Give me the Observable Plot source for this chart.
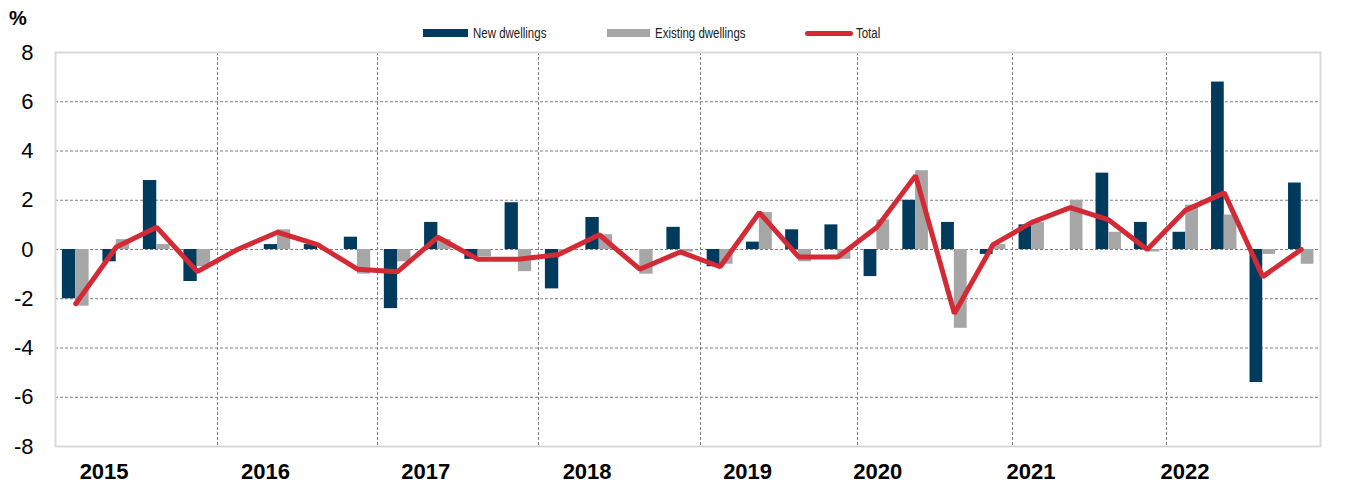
<!DOCTYPE html>
<html>
<head>
<meta charset="utf-8">
<script src="https://cdn.jsdelivr.net/npm/d3@7"></script>
<script src="https://cdn.jsdelivr.net/npm/@observablehq/plot@0.6"></script>
<style>
  html, body { margin: 0; padding: 0; background: #fff; }
  #wrap { position: relative; width: 1347px; height: 484px; }
  #header { position: absolute; left: 0; top: 0; height: 44px; width: 1347px; z-index: 2; font-family: "Liberation Sans", Arial, sans-serif; }
  .pct { position: absolute; left: 9px; top: 7px; font-weight: bold; font-size: 20px; color: #000; }
  .sw { position: absolute; }
  .lt { position: absolute; font-size: 14px; color: #222; line-height: 16px; top: 25px; transform: scaleX(0.82); transform-origin: left center; white-space: nowrap; }
  svg { display: block; }
</style>
</head>
<body>
<div id="wrap">
  <div id="header"></div>
  <div id="chart"></div>
</div>
<script>
const years = [2015, 2016, 2017, 2018, 2019, 2020, 2021, 2022];
const quarterIndex = [0, 1, 2, 3];

const newDwellings = [
  -2.0, -0.5, 2.8, -1.3,
   0.0,  0.2, 0.2,  0.5,
  -2.4,  1.1, -0.4, 1.9,
  -1.6,  1.3, 0.0,  0.9,
  -0.7,  0.3, 0.8,  1.0,
  -1.1,  2.0, 1.1, -0.2,
   1.0,  0.0, 3.1,  1.1,
   0.7,  6.8, -5.4, 2.7
];
const existingDwellings = [
  -2.3,  0.4,  0.2, -0.7,
   0.0,  0.8,  0.0, -1.0,
  -0.5,  0.4, -0.3, -0.9,
  -0.1,  0.6, -1.0, -0.1,
  -0.6,  1.5, -0.5, -0.4,
   1.2,  3.2, -3.2,  0.2,
   1.1,  2.0,  0.7, -0.1,
   1.8,  1.4, -0.2, -0.6
];
const total = [
  -2.2,  0.1,  0.9, -0.9,
   0.0,  0.7,  0.2, -0.8,
  -0.9,  0.5, -0.4, -0.4,
  -0.2,  0.6, -0.8, -0.1,
  -0.7,  1.5, -0.3, -0.3,
   0.9,  3.0, -2.6,  0.2,
   1.1,  1.7,  1.2,  0.0,
   1.6,  2.3, -1.1,  0.0
];
const yTicks = [-8, -6, -4, -2, 0, 2, 4, 6, 8];
// Year labels as placed on the original axis (fraction of year)
const yearLabelTicks = [2015.3, 2016.3, 2017.3, 2018.3, 2019.3, 2020.13, 2021.12, 2022.12];

const seriesNames = ["New dwellings", "Existing dwellings", "Total"];
const colors = { new: "#003a5c", existing: "#a6a6a6", total: "#d42a36" };

// quarter table: t = start of quarter in fractional years
const data = years.flatMap((y, yi) => quarterIndex.map(qi => {
  const i = yi * 4 + qi;
  return { t: y + qi / 4, nw: newDwellings[i], ex: existingDwellings[i], tot: total[i] };
}));

const W = 1347, H = 484, mL = 55, mR = 27, mT = 52, mB = 38;
// the original category axis is slightly uneven: year boundaries in pixels
const xDomain = [2015, 2016, 2017, 2018, 2019, 2020, 2021, 2022, 2023];
const xRange = [55, 217, 377, 538, 700, 857, 1012, 1166, 1320];

const q = 0.25; // one quarter in years
const gridStyle = { stroke: "#7f7f7f", strokeOpacity: 1, strokeWidth: 1, strokeDasharray: "3,2" };

const chart = Plot.plot({
  width: W, height: H,
  marginLeft: mL, marginRight: mR, marginTop: mT, marginBottom: mB,
  style: { fontFamily: "'Liberation Sans', Arial, sans-serif", color: "#000", background: "#fff" },
  x: { type: "linear", domain: xDomain, range: xRange },
  y: { domain: [-8, 8] },
  marks: [
    Plot.gridY(yTicks, gridStyle),
    Plot.ruleX(years.slice(1), gridStyle),
    Plot.frame({ stroke: "#d9d9d9", strokeWidth: 2 }),
    Plot.rectY(data, { x1: d => d.t + q * 0.17, x2: d => d.t + q * 0.5, y: "nw", fill: colors.new }),
    Plot.rectY(data, { x1: d => d.t + q * 0.5, x2: d => d.t + q * 0.83, y: "ex", fill: colors.existing }),
    Plot.lineY(data, { x: d => d.t + q * 0.5, y: "tot", stroke: colors.total, strokeWidth: 5, strokeLinejoin: "miter" }),
    Plot.axisY({ ticks: yTicks, tickFormat: d => String(d), tickSize: 0, tickPadding: 22, fontSize: 22, label: null }),
    Plot.axisX({ ticks: yearLabelTicks, tickFormat: d => String(Math.floor(d)), tickSize: 0, tickPadding: 17, fontSize: 22, fontWeight: "bold", label: null })
  ]
});
document.getElementById("chart").appendChild(chart);

// Legend (HTML overlay in the top margin)
const header = document.getElementById("header");
const pct = document.createElement("div");
pct.className = "pct"; pct.textContent = "%";
header.appendChild(pct);
const legendItems = [
  { name: seriesNames[0], color: colors.new, left: 423, w: 45, h: 8, r: 0, tx: 473 },
  { name: seriesNames[1], color: colors.existing, left: 607, w: 43, h: 8, r: 0, tx: 655 },
  { name: seriesNames[2], color: colors.total, left: 805, w: 48, h: 5, r: 3, tx: 856 }
];
legendItems.forEach(it => {
  const s = document.createElement("div");
  s.className = "sw";
  s.style.left = it.left + "px"; s.style.width = it.w + "px"; s.style.height = it.h + "px";
  s.style.top = (33 - it.h / 2) + "px"; s.style.background = it.color; s.style.borderRadius = it.r + "px";
  header.appendChild(s);
  const t = document.createElement("div");
  t.className = "lt"; t.style.left = it.tx + "px"; t.textContent = it.name;
  header.appendChild(t);
});
</script>
</body>
</html>
